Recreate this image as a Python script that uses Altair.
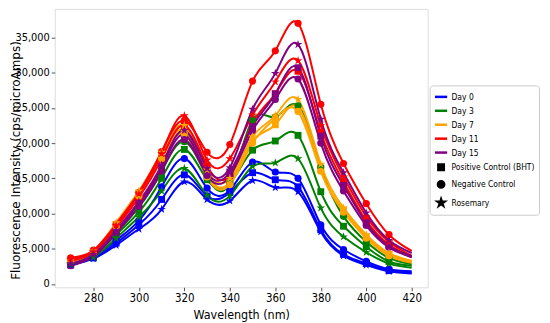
import altair as alt
import pandas as pd

wavelengths = [270, 280, 290, 300, 310, 320, 330, 340, 350, 360, 370, 380, 390, 400, 410, 420]
days = ["Day 0", "Day 3", "Day 7", "Day 11", "Day 15"]
treatments = ["Positive Control (BHT)", "Negative Control", "Rosemary"]
day_colors = ["blue", "green", "orange", "red", "purple"]
STAR = ("M0,-1L0.225,-0.309L0.951,-0.309L0.363,0.118L0.588,0.809L0,0.382"
        "L-0.588,0.809L-0.363,0.118L-0.951,-0.309L-0.225,-0.309Z")
treatment_shapes = ["square", "circle", STAR]
x_ticks = [280, 300, 320, 340, 360, 380, 400, 420]
y_ticks = [0, 5000, 10000, 15000, 20000, 25000, 30000, 35000]

day0_bht = [2800, 3700, 5800, 8400, 12000, 15500, 12500, 13000, 15800, 14800, 13800, 7700, 4200, 2900, 1900, 1600]
day0_neg = [2900, 3900, 6200, 9000, 13800, 17800, 13600, 13300, 17300, 15900, 15000, 8400, 4900, 3200, 2100, 1800]
day0_ros = [2700, 3600, 5500, 7800, 10600, 14500, 12000, 11800, 14700, 13700, 13100, 7400, 4000, 2700, 1800, 1500]

day3_bht = [3000, 4100, 7000, 10200, 15000, 19100, 14800, 14300, 19000, 20300, 21100, 13100, 8200, 5300, 3200, 2600]
day3_neg = [2900, 4000, 7200, 10900, 16000, 20200, 15200, 14300, 23300, 23700, 25300, 16600, 9600, 6000, 3700, 2800]
day3_ros = [2800, 3800, 6500, 9500, 13200, 16400, 12600, 12500, 16700, 17200, 17800, 10800, 6700, 4500, 2900, 2300]

day7_bht = [3200, 4500, 8400, 12800, 18200, 21800, 15600, 14400, 20300, 22600, 25100, 16200, 10500, 6700, 4200, 3200]
day7_neg = [3100, 4400, 8200, 12500, 17800, 21300, 15200, 14100, 20000, 23500, 24500, 16000, 10200, 6500, 4000, 3000]
day7_ros = [3400, 4700, 8700, 13200, 18700, 22500, 16200, 15000, 20900, 23900, 26200, 17000, 10800, 7000, 4400, 3300]

day11_bht = [3300, 4500, 8000, 12300, 17800, 22500, 16800, 15500, 22800, 27000, 30200, 21500, 14500, 9000, 5600, 3800]
day11_neg = [3700, 4800, 8500, 13000, 18800, 23200, 18700, 19800, 28800, 33100, 37000, 25500, 17100, 11400, 7000, 4700]
day11_ros = [3500, 4600, 8300, 12800, 18500, 23900, 17600, 17800, 24000, 28700, 31700, 22500, 15200, 9600, 6000, 4000]

day15_bht = [2700, 4000, 7400, 11400, 16500, 21200, 15800, 15900, 22400, 27000, 30700, 21000, 14000, 8700, 5400, 4000]
day15_neg = [2600, 3900, 7200, 11000, 16000, 20500, 15400, 15300, 21800, 26200, 29100, 20000, 13200, 8300, 5200, 3800]
day15_ros = [2900, 4200, 7600, 11700, 16900, 21800, 16400, 16500, 24800, 29900, 34000, 23400, 15800, 10100, 6200, 4400]

series = [
    ("Day 0", treatments[0], day0_bht), ("Day 0", treatments[1], day0_neg), ("Day 0", treatments[2], day0_ros),
    ("Day 3", treatments[0], day3_bht), ("Day 3", treatments[1], day3_neg), ("Day 3", treatments[2], day3_ros),
    ("Day 7", treatments[0], day7_bht), ("Day 7", treatments[1], day7_neg), ("Day 7", treatments[2], day7_ros),
    ("Day 11", treatments[0], day11_bht), ("Day 11", treatments[1], day11_neg), ("Day 11", treatments[2], day11_ros),
    ("Day 15", treatments[0], day15_bht), ("Day 15", treatments[1], day15_neg), ("Day 15", treatments[2], day15_ros),
]

rows = []
for d, t, vals in series:
    for w, v in zip(wavelengths, vals):
        rows.append({"wl": w, "val": v, "day": d, "treat": t, "series": d + "|" + t})
df = pd.DataFrame(rows)
marker_df = df[df["wl"] <= 410]

legend_keys = days + treatments
legend_df = pd.DataFrame({"key": legend_keys})

NARROW = "Liberation Sans Narrow, DejaVu Sans Condensed, Liberation Sans, sans-serif"

x = alt.X("wl:Q",
          scale=alt.Scale(domain=[263, 427], nice=False, zero=False),
          axis=alt.Axis(values=x_ticks, format="d", title="Wavelength (nm)", grid=False, domain=False,
                        orient="bottom",
                        labelFont=NARROW, labelFontSize=11.5, labelColor="black",
                        tickColor="#555", tickSize=3.5, labelPadding=2,
                        titleFont=NARROW, titleFontSize=12.5, titleFontWeight="normal",
                        titleColor="black", titlePadding=4))
y = alt.Y("val:Q",
          scale=alt.Scale(domain=[-470, 39050], nice=False, zero=False),
          axis=alt.Axis(values=y_ticks, format=",.0f", title="Fluorescence Intensity (cps/microAmps)",
                        grid=False, domain=False, orient="left",
                        labelFont=NARROW, labelFontSize=11, labelColor="black",
                        tickColor="#555", tickSize=3.5, labelPadding=2,
                        titleFont="DejaVu Sans", titleFontSize=12, titleFontWeight="normal",
                        titleColor="black", titleX=-39.5, titleY=152, titleAngle=270,
                        titleAlign="center", titleBaseline="middle"))

color = alt.Color("day:N", scale=alt.Scale(domain=days, range=day_colors), legend=None)

lines = alt.Chart(df).mark_line(interpolate="natural", strokeWidth=2).encode(
    x=x, y=y, color=color, detail="series:N")

point_layers = []
for t, shp, sz in zip(treatments, treatment_shapes, [48, 52, 85]):
    point_layers.append(
        alt.Chart(marker_df[marker_df["treat"] == t]).mark_point(
            filled=True, opacity=1, shape=shp, size=sz).encode(x=x, y=y, color=color))

leg = alt.Legend(title=None, orient="none", legendX=377, legendY=77, symbolOpacity=1,
                 symbolStrokeWidth=2.5, labelFont=NARROW, labelFontSize=8.5,
                 labelColor="black", labelOffset=3, rowPadding=1, padding=4,
                 strokeColor="#cccccc", fillColor="white", cornerRadius=3)

legend_layer = alt.Chart(legend_df).mark_point(filled=True, opacity=0).encode(
    x=alt.value(0), y=alt.value(0),
    fill=alt.Fill("key:N", scale=alt.Scale(domain=legend_keys, range=day_colors + ["black"] * 3),
                  legend=leg, sort=legend_keys),
    stroke=alt.Stroke("key:N", scale=alt.Scale(domain=legend_keys, range=day_colors + ["black"] * 3),
                      legend=leg, sort=legend_keys),
    shape=alt.Shape("key:N", scale=alt.Scale(domain=legend_keys, range=["stroke"] * 5 + treatment_shapes),
                    legend=leg, sort=legend_keys),
    size=alt.Size("key:N", scale=alt.Scale(type="ordinal", domain=legend_keys,
                                            range=[150] * 5 + [30, 40, 45]),
                  legend=leg, sort=legend_keys),
)

chart = alt.layer(lines, *point_layers, legend_layer).properties(
    width=375, height=280,
    autosize=alt.AutoSizeParams(type="none"),
    padding={"left": 47, "top": 0, "right": 115, "bottom": 35},
).configure_view(stroke="#8c8c8c", strokeWidth=1.2).configure(background="white")

chart.save("out.html", embed_options={"renderer": "svg", "actions": False})
